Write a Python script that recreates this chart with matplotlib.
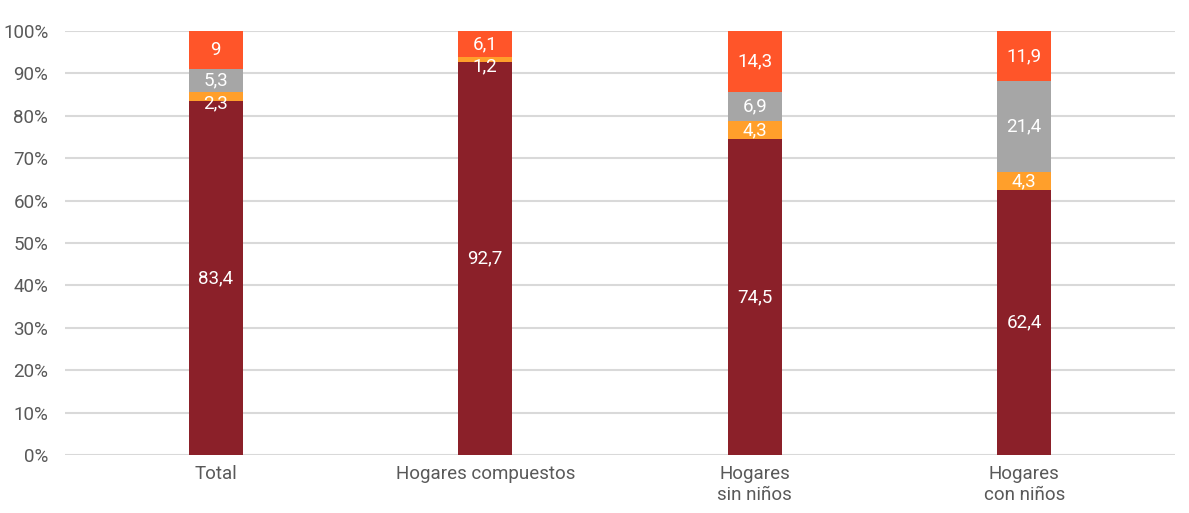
import numpy as np
import matplotlib
matplotlib.use('Agg')
import matplotlib.pyplot as plt

# Datos (porcentajes)
categorias = ['Total', 'Hogares compuestos', 'Hogares\nsin niños', 'Hogares\ncon niños']
serie_1 = [83.4, 92.7, 74.5, 62.4]
serie_2 = [2.3, 1.2, 4.3, 4.3]
serie_3 = [5.3, 0.0, 6.9, 21.4]
serie_4 = [9.0, 6.1, 14.3, 11.9]
ticks_y = [0, 10, 20, 30, 40, 50, 60, 70, 80, 90, 100]

colores = ['#8B2029', '#FF9F2B', '#A6A6A6', '#FF5529']

plt.rcParams['font.family'] = ['Roboto', 'DejaVu Sans']

fig = plt.figure(figsize=(11.89, 5.13), dpi=100)
ax = fig.add_axes([65 / 1189, 1 - 455 / 513, (1175 - 65) / 1189, (455 - 31) / 513])

x = np.arange(len(categorias))
base = np.zeros(len(categorias))
for serie, color in zip([serie_1, serie_2, serie_3, serie_4], colores):
    vals = np.array(serie)
    ax.bar(x, vals, bottom=base, width=0.2, color=color, zorder=3)
    for xi, b, v in zip(x, base, vals):
        if v > 0:
            txt = f'{v:g}'.replace('.', ',')
            # las etiquetas de segmentos muy finos bajan un poco
            dy = -5 if v < 3 else 0
            ax.annotate(txt, (xi, b + v / 2), xytext=(0, dy), textcoords='offset points',
                        ha='center', va='center', color='white', fontsize=13.5, zorder=4)
    base += vals

ax.set_xlim(-0.56, 3.56)
ax.set_ylim(0, 100)
ax.set_yticks(ticks_y)
ax.set_yticklabels([f'{t}%' for t in ticks_y])
ax.set_xticks(x)
ax.set_xticklabels(categorias)
ax.yaxis.grid(True, color='#D9D9D9', linewidth=1.5, zorder=0)
ax.tick_params(axis='both', length=0, colors='#595959', labelsize=13.5)
ax.tick_params(axis='y', pad=12)
ax.tick_params(axis='x', pad=7)
for s in ax.spines.values():
    s.set_visible(False)

fig.savefig('out.png', dpi=100)
